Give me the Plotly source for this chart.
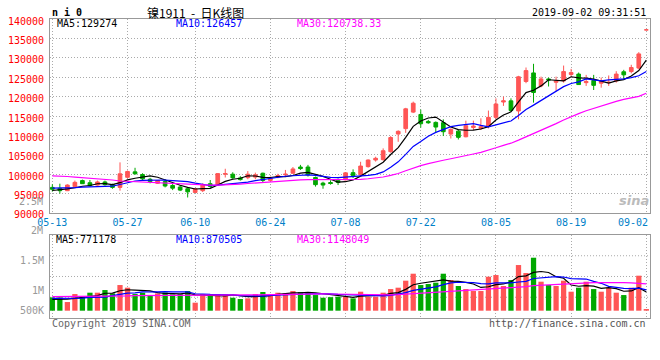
import pandas as pd
import plotly.graph_objects as go

# ---------------- data ----------------
holidays = ["2019-06-07"]
trade_days = [d.strftime("%Y-%m-%d") for d in pd.bdate_range("2019-05-13", "2019-09-02")
              if d.strftime("%Y-%m-%d") not in holidays]

opens = [96600, 96350, 95750, 96800, 98350, 97800, 97200, 98000, 97300, 96600,
         99200, 100600, 99900, 98700, 97650, 98100, 97100, 96700, 96250, 95300,
         95750, 97550, 97200, 100000, 100000, 99050, 99100, 99250, 100250, 98400,
         99250, 99850, 100250, 101850, 101850, 99150, 97700, 97850, 98400, 98550,
         100400, 99850, 101950, 103650, 103750, 105800, 110350, 111750, 116000, 115400,
         113600, 113350, 113280, 110350, 111100, 109650, 112050, 111800, 112250, 114650,
         118600, 118900, 116300, 123900, 126100, 122750, 124550, 123700, 124050, 125700,
         125800, 123600, 124150, 123450, 123600, 124050, 126400, 126450, 127350, 137200]
highs = [97400, 97550, 97400, 98350, 98600, 98500, 98350, 98350, 97550, 103050,
         100950, 101650, 100250, 99050, 98500, 98700, 97450, 97150, 96700, 96350,
         97650, 98500, 100200, 101400, 100500, 99500, 100800, 100400, 100400, 99400,
         100100, 101100, 101850, 102400, 102400, 99400, 98050, 98450, 98900, 100500,
         101250, 103200, 103800, 104500, 106650, 109800, 111300, 117100, 118700, 116650,
         114000, 113600, 114140, 111800, 111400, 113800, 113800, 114400, 116400, 119550,
         120000, 119550, 125350, 127500, 128450, 125150, 124900, 125150, 128000, 127150,
         126200, 125600, 125600, 124900, 125450, 126550, 126900, 128200, 131450, 137200]
lows = [95500, 95000, 95650, 96800, 97500, 96800, 97050, 97050, 96250, 95750,
        98950, 99900, 98350, 97650, 97500, 96600, 95900, 95650, 94000, 95200,
        95400, 96500, 97100, 99150, 98800, 98350, 98700, 98700, 97900, 98050,
        98950, 99400, 100100, 101100, 99400, 96800, 96250, 97300, 97200, 98400,
        99000, 99600, 101700, 103250, 103500, 105550, 108350, 110650, 115750, 112000,
        113000, 110650, 109830, 109200, 108950, 109500, 111400, 111400, 111800, 114150,
        117600, 116100, 114150, 123450, 118450, 122400, 122600, 121450, 123600, 125150,
        123000, 122750, 121700, 122300, 122750, 123600, 124500, 126000, 127050, 137200]
closes = [96100, 95750, 97200, 97900, 97550, 97050, 98000, 97300, 96600, 100100,
          100700, 100100, 98800, 98100, 98350, 96950, 96400, 95900, 95450, 96250,
          97300, 96850, 100150, 100150, 99050, 98600, 100000, 99850, 98400, 98900,
          99650, 100000, 101350, 101450, 99850, 97300, 97200, 97600, 97850, 100350,
          99600, 102100, 103650, 104100, 106050, 109450, 111050, 116850, 118300, 113000,
          113250, 112150, 110950, 111550, 109500, 112500, 112400, 112250, 114650, 118100,
          118900, 116400, 125100, 126700, 121050, 124550, 124300, 124050, 126450, 126200,
          123100, 123900, 122900, 123900, 123700, 125800, 125600, 127500, 131000, 137200]
volumes = [551000, 551000, 358000, 689000, 579000, 744000, 744000, 854000, 716000, 1061000,
           951000, 689000, 744000, 647000, 716000, 758000, 675000, 689000, 813000, 331000,
           689000, 647000, 689000, 689000, 537000, 482000, 510000, 689000, 772000, 647000,
           744000, 716000, 813000, 772000, 758000, 647000, 537000, 560000, 579000, 579000,
           510000, 785000, 579000, 579000, 744000, 895000, 951000, 1240000, 1529000, 1061000,
           1102000, 1157000, 1529000, 1268000, 1020000, 895000, 813000, 813000, 1405000, 1474000,
           1020000, 1268000, 1887000, 1557000, 2190000, 1199000, 1061000, 1020000, 1240000, 785000,
           951000, 1199000, 895000, 785000, 951000, 744000, 647000, 951000, 1447000, 69000]

# moving-average values before a full window is visible
price_ma5_head = [95800, 95950, 96200, 96500]
price_ma10_head = [96400, 96400, 96450, 96550, 96650, 96700, 96800, 96850, 96900]
price_ma30_head = [99560, 99550, 99400, 99250, 99100, 99050, 98950, 98800, 98500, 98250,
                   98150, 98050, 97950, 97900, 97850, 97800, 97650, 97550, 97400, 97300,
                   97250, 97200, 97200, 97250, 97350, 97450, 97600, 97750, 97900]
vol_ma5_head = [470000, 470000, 480000, 510000]
vol_ma10_head = [510000, 510000, 510000, 510000, 520000, 550000, 550000, 560000, 620000]
vol_ma30_head = [580000, 580000, 580000, 580000, 580000, 580000, 580000, 580000, 580000, 600000,
                 610000, 620000, 620000, 625000, 625000, 625000, 625000, 625000, 630000, 625000,
                 625000, 625000, 630000, 635000, 640000, 645000, 650000, 655000, 660000]

tick_dates = ["2019-05-13", "2019-05-27", "2019-06-10", "2019-06-24", "2019-07-08",
              "2019-07-22", "2019-08-05", "2019-08-19", "2019-09-02"]
tick_labels = ["05-13", "05-27", "06-10", "06-24", "07-08", "07-22", "08-05", "08-19", "09-02"]
price_ticks = [90000, 95000, 100000, 105000, 110000, 115000, 120000, 125000, 130000, 135000, 140000]
vol_tick_labels = ["500K", "1M", "1.5M"]
vol_tick_vals = [0, 826600, 2066500]

title_code = "n i 0"
title_name = "镍1911  -  日K线图"
timestamp = "2019-09-02 09:31:51"
price_ma_text = ["MA5:129274", "MA10:126457", "MA30:120738.33"]
vol_ma_text = ["MA5:771178", "MA10:870505", "MA30:1148049"]


def moving_average(values, n, head):
    s = pd.Series(values, dtype=float).rolling(n).mean().tolist()
    return list(head) + s[n - 1:]


RED = "#FF5555"
GREEN = "#00A800"
MA_COLORS = ["#000000", "#0000FF", "#FF00FF"]
MONO = "DejaVu Sans Mono"
DATE_BLUE = "#0080C8"

price_mas = [moving_average(closes, 5, price_ma5_head),
             moving_average(closes, 10, price_ma10_head),
             moving_average(closes, 30, price_ma30_head)]
vol_mas = [moving_average(volumes, 5, vol_ma5_head),
           moving_average(volumes, 10, vol_ma10_head),
           moving_average(volumes, 30, vol_ma30_head)]
bar_colors = [RED if c >= o else GREEN for o, c in zip(opens, closes)]

fig = go.Figure()
fig.add_trace(go.Candlestick(
    x=trade_days, open=opens, high=highs, low=lows, close=closes,
    increasing=dict(line=dict(color=RED, width=1), fillcolor=RED),
    decreasing=dict(line=dict(color=GREEN, width=1), fillcolor=GREEN),
    whiskerwidth=0, xaxis="x", yaxis="y", hoverinfo="skip"))
for ma, col in zip(price_mas, MA_COLORS):
    fig.add_trace(go.Scatter(x=trade_days, y=ma, mode="lines",
                             line=dict(color=col, width=1.2), xaxis="x", yaxis="y",
                             hoverinfo="skip"))
fig.add_trace(go.Bar(x=trade_days, y=volumes, marker=dict(color=bar_colors, line_width=0),
                     width=0.7, xaxis="x2", yaxis="y2", hoverinfo="skip"))
for ma, col in zip(vol_mas, MA_COLORS):
    fig.add_trace(go.Scatter(x=trade_days, y=ma, mode="lines",
                             line=dict(color=col, width=1.2), xaxis="x2", yaxis="y2",
                             hoverinfo="skip"))

GRID = "#AAAAAA"
FRAME = "#999999"
xrange = [-0.31, 79.49]
# last date label is drawn as an annotation so it stays inside the page
ticktext = tick_labels[:-1] + [""]

common_x = dict(type="category", range=xrange, tickvals=tick_dates, showgrid=True,
                gridcolor=GRID, griddash="1px,2px", gridwidth=1, showline=True, mirror=True,
                linecolor=FRAME, linewidth=1, ticks="", zeroline=False)

fig.update_layout(
    width=660, height=360,
    margin=dict(l=50, r=10, t=19, b=42, autoexpand=False),
    paper_bgcolor="white", plot_bgcolor="white",
    showlegend=False, hovermode=False,
    font=dict(family=MONO, size=10, color="#000"),
    xaxis=dict(common_x, domain=[0, 1], anchor="y", ticktext=ticktext,
               tickfont=dict(family=MONO, size=10, color=DATE_BLUE),
               rangeslider=dict(visible=False)),
    xaxis2=dict(common_x, domain=[0, 1], anchor="y2", matches="x", showticklabels=False),
    yaxis=dict(domain=[0.3512, 1], range=[90000, 140000], tickvals=price_ticks,
               tickformat="d", tickfont=dict(family=MONO, size=10, color="#FF0000"),
               ticklabelshift=2, ticklabelstandoff=3,
               showgrid=True, gridcolor=GRID, griddash="1px,2px", showline=True, mirror=True,
               linecolor=FRAME, linewidth=1, ticks="", zeroline=False),
    yaxis2=dict(domain=[0, 0.2776], range=[-301700, 3128700], tickvals=vol_tick_vals,
                ticktext=vol_tick_labels, tickfont=dict(family=MONO, size=10, color="#999999"),
                ticklabelstandoff=3,
                showgrid=False, showline=True, mirror=True, linecolor=FRAME, linewidth=1,
                ticks="", zeroline=False),
)

for f in (0.25, 0.5, 0.75):
    fig.add_shape(type="line", xref="x2 domain", yref="y2 domain", x0=0, x1=1, y0=f, y1=f,
                  line=dict(color=GRID, width=1, dash="1px,2px"), layer="below")


def ann(text, x, y, xanchor="left", color="#000", size=10, family=MONO, **kw):
    fig.add_annotation(text=text, xref="paper", yref="paper", x=x, y=y, xanchor=xanchor,
                       yanchor="middle", showarrow=False,
                       font=dict(family=family, size=size, color=color), **kw)


ann("<b>" + title_code + "</b>", 0.0, 1.0224)
ann(title_name, 0.2417, 1.0224, xanchor="center", size=12, family="Noto Sans CJK SC")
ann(timestamp, 0.9972, 1.0224, xanchor="right")
for txt, xp, col in zip(price_ma_text, [0.0083, 0.2072, 0.4088], MA_COLORS):
    ann(txt, xp, 0.9833, color=col)
for txt, xp, col in zip(vol_ma_text, [0.0072, 0.2072, 0.4083], MA_COLORS):
    ann(txt, xp, 0.2642, color=col)
ann("2M", 0.0, 0.291, xanchor="right", color="#999999", xshift=-5)
ann("2.5M", 0.0, 0.388, xanchor="right", color="#999999", xshift=-5)
ann("Copyright 2019 SINA.COM", 0.0, -0.0177, color="#666666")
ann("http://finance.sina.com.cn", 0.9972, -0.0177, xanchor="right", color="#555555")
ann("<b><i>sina</i></b>", 0.973, 0.392, xanchor="center", color="#BBBBBB", size=13,
    family="DejaVu Sans")
fig.add_annotation(text=tick_labels[-1], xref="x", yref="paper", x=tick_dates[-1], y=0.3512,
                   xanchor="right", yanchor="top", yshift=-2, xshift=4, showarrow=False,
                   font=dict(family=MONO, size=10, color=DATE_BLUE))

fig.write_html("out.html", config={"displayModeBar": False, "staticPlot": True},
               post_script="document.body.style.margin='0';document.body.style.padding='0';")
